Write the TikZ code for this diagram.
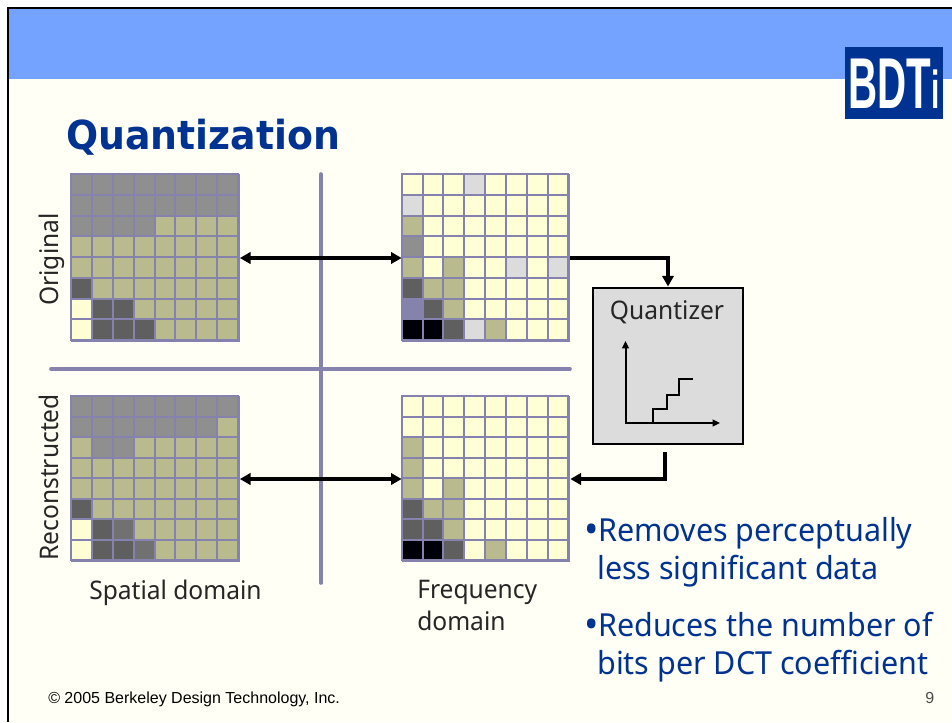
\documentclass[tikz,border=0pt]{standalone}
\usepackage{fontspec}
\setmainfont[FakeStretch=0.96]{Noto Sans}
\newfontfamily\titlefont[FakeStretch=0.945]{DejaVu Sans}
\newfontfamily\footfont{Liberation Sans}
\usetikzlibrary{calc,positioning}
\usetikzlibrary{arrows.meta}
\tikzset{>={Triangle[width=8.5pt,length=8pt]}}

\definecolor{band}{HTML}{74A3FF}
\definecolor{paper}{HTML}{FFFFF5}
\definecolor{navy}{HTML}{003391}
\definecolor{rule}{HTML}{8583AD}
\definecolor{g}{HTML}{8F8F8F}
\definecolor{o}{HTML}{B9BA8E}
\definecolor{d}{HTML}{5F5F5F}
\definecolor{m}{HTML}{717171}
\definecolor{y}{HTML}{FFFFD6}
\definecolor{l}{HTML}{DCDCDC}
\definecolor{p}{HTML}{8583AD}
\definecolor{k}{HTML}{000008}

\newcommand{\bigdot}{\makebox[9.75pt][l]{\fontsize{30}{30}\selectfont\raisebox{-1.6pt}{\hspace*{-0.6pt}•}}}

% name, centre, height in px, rows
\newcommand{\dctgrid}[4]{
  \node[gridbox, minimum height=#3*0.75pt] (#1) at (#2) {};
  \begin{scope}[shift={(#1.north west)}, x=125pt/8, y=-#3*0.75pt/8]
    \foreach \row [count=\jj] in {#4} {
      \foreach \cc [count=\ii] in \row {
        \fill[fill=\cc] (\ii-1,\jj-1) rectangle (\ii,\jj);
      }
    }
    \foreach \nn in {0,...,8} {
      \draw[gridline] (\nn,0) -- (\nn,8);
      \draw[gridline] (0,\nn) -- (8,\nn);
    }
  \end{scope}
}

\begin{document}
\begin{tikzpicture}[x=0.75pt,y=-0.75pt]
        \tikzstyle{gridbox} = [draw=rule, line width=1.5pt, minimum width=125pt, inner sep=0pt]
        \tikzstyle{gridline} = [draw=rule, line width=1.5pt, line cap=rect]
        \tikzstyle{txt} = [inner sep=0pt, anchor=base west, font=\fontsize{19.2}{23}\selectfont, text=black!85]
        \tikzstyle{bullet} = [inner sep=0pt, anchor=base west, font=\fontsize{23.8}{28}\selectfont, text=navy]
        \tikzstyle{foot} = [inner sep=0pt, anchor=base west, font=\footfont\fontsize{12}{14}\selectfont]
        \tikzstyle{link} = [->, line width=3pt]
        \tikzstyle{cross} = [draw=rule, line width=2.7pt, line cap=round]
        \tikzstyle{axis} = [line width=1.5pt]

        \useasboundingbox (0,0) rectangle (952,722);
        \fill[white] (0,0) rectangle (952,722);
        \fill[paper] (8,8) rectangle (952,722);
        \fill[band] (8,8) rectangle (952,79);
        \coordinate (ftop) at (952,8);
        \coordinate (fcorner) at (8,8);
        \coordinate (fbot) at (8,722);
        \draw[line width=1.6pt] (ftop) -- (fcorner) -- (fbot);

        % logo
        \node[fill=navy, minimum width=73.5pt, minimum height=54pt, inner sep=0pt] (logo) at (894,83) {};
        \node[text=white, inner sep=0pt, anchor=base] (logotext) at (894,108.5) {\scalebox{0.56}[1]{\footfont\bfseries\fontsize{54}{54}\selectfont BDT{\fontsize{40}{40}\selectfont i}}};

        \node[inner sep=0pt, anchor=base west, text=navy, font=\titlefont\bfseries\fontsize{30}{36}\selectfont] (title) at (66,149) {Quantization};

        % the four blocks
        \dctgrid{spatorig}{155.5,258}{166}{{g,g,g,g,g,g,g,g},{g,g,g,g,g,g,g,g},{g,g,g,g,o,o,o,o},{o,o,o,o,o,o,o,o},{o,o,o,o,o,o,o,o},{d,o,o,o,o,o,o,o},{y,d,d,o,o,o,o,o},{y,d,d,d,o,o,o,o}}
        \dctgrid{freqorig}{486,258}{166}{{y,y,y,l,y,y,y,y},{l,y,y,y,y,y,y,y},{o,y,y,y,y,y,y,y},{g,y,y,y,y,y,y,y},{o,y,o,y,y,l,y,l},{d,o,o,y,y,y,y,y},{p,d,o,y,y,y,y,y},{k,k,d,l,o,y,y,y}}
        \dctgrid{spatrec}{155.5,479}{164}{{g,g,g,g,g,g,g,g},{g,g,g,g,g,g,g,o},{o,g,g,o,o,o,o,o},{o,o,o,o,o,o,o,o},{o,o,o,o,o,o,o,o},{d,o,o,o,o,o,o,o},{y,d,m,o,o,o,o,o},{y,d,d,m,o,o,o,o}}
        \dctgrid{freqrec}{486,479}{164}{{y,y,y,y,y,y,y,y},{y,y,y,y,y,y,y,y},{o,y,y,y,y,y,y,y},{o,y,y,y,y,y,y,y},{o,y,o,y,y,y,y,y},{d,o,o,y,y,y,y,y},{d,d,o,y,y,y,y,y},{k,k,d,y,o,y,y,y}}

        \coordinate (vtop) at (321,174);
        \coordinate (vbot) at (321,583);
        \coordinate (hleft) at (51,369);
        \coordinate (hright) at (570,369);
        \draw[cross] (vtop) -- (vbot);
        \draw[cross] (hleft) -- (hright);

        % quantizer
        \node[draw=black, fill=l, line width=1.5pt, minimum width=112pt, minimum height=117pt, inner sep=0pt] (quant) at (668,365.5) {};
        \node[txt, anchor=base] (quantlabel) at (667,319) {Quantizer};
        \coordinate (qorigin) at (625.5,423);
        \coordinate (qytop) at (625.5,341);
        \coordinate (qxend) at (720,423);
        \draw[axis, {Triangle[width=5pt,length=5.5pt]}-{Triangle[width=5pt,length=5.5pt]}] (qytop) -- (qorigin) -- (qxend);
        \draw[axis] (652.5,423) |- (667,409) |- (679,395) |- (693,379);

        \draw[link,<->] (spatorig) -- (freqorig);
        \draw[link,<->] (spatrec) -- (freqrec);
        \draw[link] (freqorig.east) -| (quant.north);
        \coordinate (qout) at (665,452);
        \draw[link] (qout) |- (freqrec.east);

        \node[txt, rotate=90] (orig) at (58,306) {Original};
        \node[txt, rotate=90] (recon) at (58,561) {Reconstructed};
        \node[txt] (spatlabel) at (89,599) {Spatial domain};
        \node[txt] (freqlabel) at (417,598) {Frequency};
        \node[txt] (domlabel) at (417,630) {domain};

        \node[bullet] (bulleta) at (585,541) {\bigdot Removes perceptually};
        \node[bullet] (bulletb) at (597,579) {less significant data};
        \node[bullet] (bulletc) at (585,636) {\bigdot Reduces the number of};
        \node[bullet] (bulletd) at (597,674) {bits per DCT coefficient};

        \node[foot] (copy) at (48,703) {© 2005 Berkeley Design Technology, Inc.};
        \node[foot, text=black!70] (pageno) at (925,703) {9};
\end{tikzpicture}
\end{document}
